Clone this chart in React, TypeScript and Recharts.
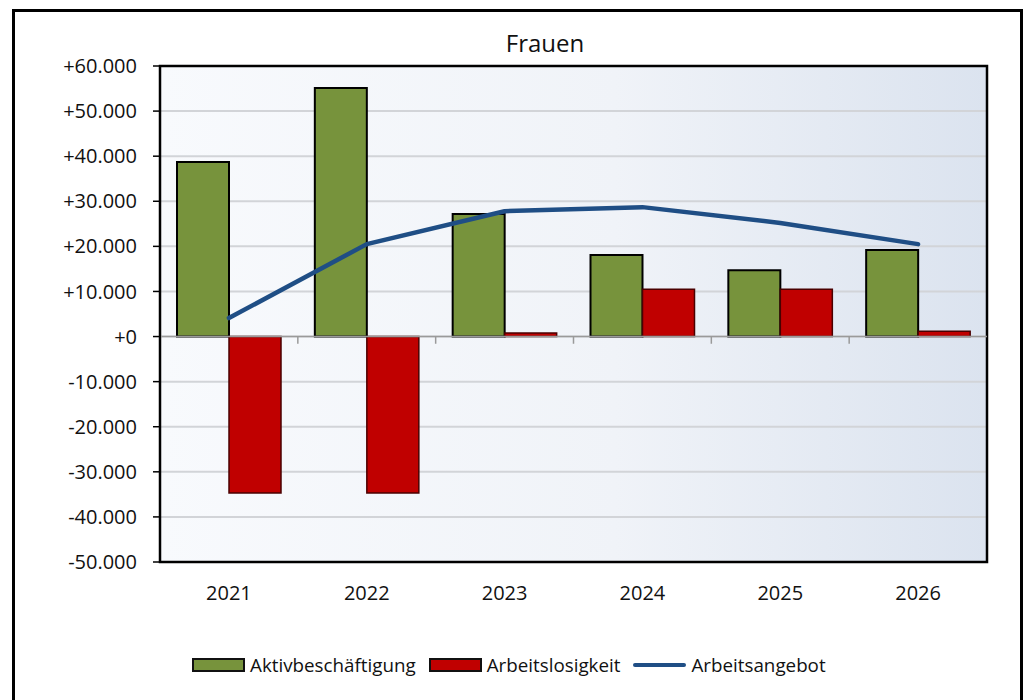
import React from 'react';
import {
  ComposedChart,
  Bar,
  Line,
  XAxis,
  YAxis,
  CartesianGrid,
  ReferenceLine,
  ReferenceArea,
} from 'recharts';

const years = ['2021', '2022', '2023', '2024', '2025', '2026'];
const aktivbeschaeftigung = [38700, 55100, 27200, 18100, 14700, 19200];
const arbeitslosigkeit = [-34700, -34700, 800, 10500, 10500, 1200];
const arbeitsangebot = [4100, 20500, 27800, 28700, 25200, 20500];
const yTicks = [-50000, -40000, -30000, -20000, -10000, 0, 10000, 20000, 30000, 40000, 50000, 60000];
const boundaries = [1, 2, 3, 4, 5];

const data = years.map((year, i) => ({
  year,
  slot: i + 0.5, // category centre on the helper axis
  aktiv: aktivbeschaeftigung[i],
  arbeitslos: arbeitslosigkeit[i],
  angebot: arbeitsangebot[i],
}));

const FONT = '"Open Sans", "Noto Sans", sans-serif';

// 60000 -> "+60.000", -50000 -> "-50.000", 0 -> "+0"
function formatTick(v: number) {
  const abs = Math.abs(v);
  const s = String(abs).replace(/\B(?=(\d{3})+(?!\d))/g, '.');
  return (v < 0 ? '-' : '+') + s;
}

function LegendItem({ kind, color, label }: { kind: 'bar' | 'line'; color: string; label: string }) {
  return (
    <div style={{ display: 'flex', alignItems: 'center', marginRight: 13 }}>
      {kind === 'bar' ? (
        <div
          style={{
            width: 53,
            height: 14,
            background: color,
            border: '2px solid #111',
            boxSizing: 'border-box',
          }}
        />
      ) : (
        <div style={{ width: 53, height: 4, background: color, borderRadius: 2 }} />
      )}
      <span style={{ marginLeft: 5 }}>{label}</span>
    </div>
  );
}

export default function App() {
  return (
    <div
      style={{
        position: 'fixed',
        left: 0,
        top: 0,
        width: 1025,
        height: 700,
        overflow: 'hidden',
        background: '#fff',
        fontFamily: FONT,
      }}
    >
      {/* outer frame */}
      <div
        style={{
          position: 'absolute',
          left: 12,
          top: 9,
          width: 1011,
          height: 720,
          border: '3px solid #000',
          boxSizing: 'border-box',
        }}
      />
      <div
        style={{
          position: 'absolute',
          left: 445,
          top: 29,
          width: 200,
          textAlign: 'center',
          fontSize: 24,
          lineHeight: '28px',
          color: '#111',
        }}
      >
        Frauen
      </div>
      <div style={{ position: 'absolute', left: 0, top: 0 }}>
        <ComposedChart
          width={1025}
          height={700}
          data={data}
          margin={{ top: 66, right: 38, bottom: 108, left: 0 }}
          barGap={0}
          barCategoryGap={17}
        >
          <defs>
            <linearGradient id="plotBg" x1="0" y1="0" x2="1" y2="0">
              <stop offset="0%" stopColor="#f8fafd" />
              <stop offset="55%" stopColor="#f0f3f8" />
              <stop offset="100%" stopColor="#dbe3ef" />
            </linearGradient>
          </defs>
          <CartesianGrid
            vertical={false}
            stroke="#d2d4d8"
            strokeWidth={2}
            fill="url(#plotBg)"
            fillOpacity={1}
          />
          <XAxis
            dataKey="year"
            height={30}
            axisLine={false}
            tickLine={false}
            tickSize={10}
            tickMargin={14}
            tick={{ fill: '#111', fontSize: 20, fontFamily: FONT }}
          />
          {/* helper axis spanning the category bands, for boundary ticks and the frame */}
          <XAxis xAxisId="b" dataKey="slot" type="number" domain={[0, 6]} allowDataOverflow hide />
          <YAxis
            width={160}
            domain={[-50000, 60000]}
            ticks={yTicks}
            interval={0}
            tickFormatter={formatTick}
            axisLine={{ stroke: '#000', strokeWidth: 2 }}
            tickLine={{ stroke: '#000', strokeWidth: 1.5 }}
            tickSize={7}
            tickMargin={16}
            tick={{ fill: '#111', fontSize: 20, fontFamily: FONT }}
          />
          <ReferenceLine y={0} stroke="#9a9a9a" strokeWidth={1.5} />
          {boundaries.map((b) => (
            <ReferenceLine
              key={b}
              xAxisId="b"
              segment={[
                { x: b, y: 0 },
                { x: b, y: -1600 },
              ]}
              stroke="#9a9a9a"
              strokeWidth={1.5}
            />
          ))}
          <Bar
            dataKey="aktiv"
            name="Aktivbeschäftigung"
            fill="#77933c"
            stroke="#000"
            strokeWidth={2}
            isAnimationActive={false}
          />
          <Bar
            dataKey="arbeitslos"
            name="Arbeitslosigkeit"
            fill="#c00000"
            stroke="#4a0000"
            strokeWidth={1.5}
            isAnimationActive={false}
          />
          <Line
            type="linear"
            dataKey="angebot"
            name="Arbeitsangebot"
            stroke="#1f4e85"
            strokeWidth={4.5}
            strokeLinecap="round"
            strokeLinejoin="round"
            dot={false}
            isAnimationActive={false}
          />
          <ReferenceArea
            xAxisId="b"
            x1={0}
            x2={6}
            y1={-50000}
            y2={60000}
            ifOverflow="visible"
            fill="none"
            fillOpacity={0}
            stroke="#000"
            strokeWidth={2.5}
          />
        </ComposedChart>
      </div>
      <div
        style={{
          position: 'absolute',
          left: 192,
          top: 652,
          height: 26,
          display: 'flex',
          alignItems: 'center',
          fontSize: 18.8,
          color: '#111',
        }}
      >
        <LegendItem kind="bar" color="#77933c" label="Aktivbeschäftigung" />
        <LegendItem kind="bar" color="#c00000" label="Arbeitslosigkeit" />
        <LegendItem kind="line" color="#1f4e85" label="Arbeitsangebot" />
      </div>
    </div>
  );
}
